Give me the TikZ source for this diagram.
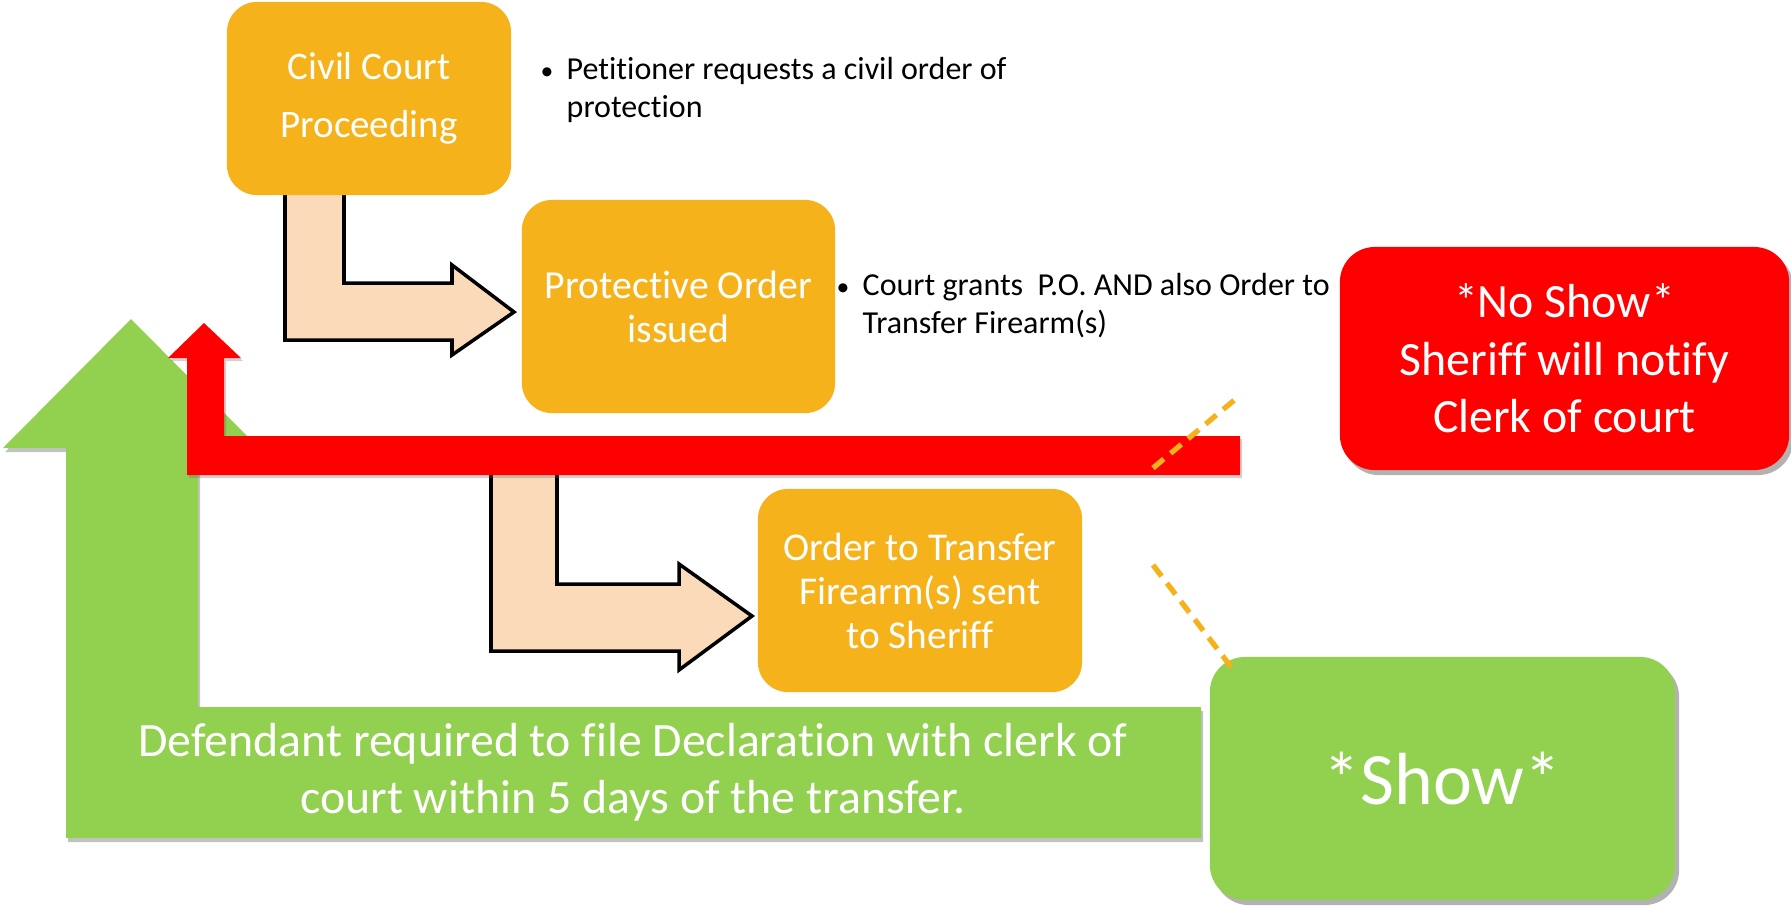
\documentclass[tikz,border=0pt]{standalone}
\usepackage{fontspec}
\setmainfont{Carlito}[RawFeature={-liga;-clig;-dlig;-calt}]
\usetikzlibrary{shadows}
\definecolor{boxorange}{RGB}{245,178,27}
\definecolor{arrowpeach}{RGB}{250,218,185}
\definecolor{showgreen}{RGB}{146,208,80}
\definecolor{alarmred}{RGB}{255,0,0}
\newcommand{\tbreak}{t\kern0pt}
\tikzset{obox/.style={fill=boxorange, rounded corners=0.3cm, text=white, align=center, inner sep=0pt},
  bentarrow/.style={fill=arrowpeach, draw=black, line width=1pt, line join=miter},
  greenarrow/.style={fill=showgreen, drop shadow={shadow xshift=0.02cm, shadow yshift=-0.04cm, opacity=0.4, fill=black!60}},
  redarrow/.style={fill=alarmred, drop shadow={shadow xshift=0.02cm, shadow yshift=-0.03cm, opacity=0.3, fill=black!60}},
  note/.style={align=left, inner sep=0pt, font=\fontsize{9.1pt}{10.8pt}\selectfont},
  bigbox/.style={rounded corners=0.35cm, text=white, align=center, inner sep=0pt, drop shadow={shadow xshift=0.04cm, shadow yshift=-0.05cm, opacity=0.5, fill=black!60}},
  leader/.style={draw=boxorange, line width=1.5pt, dash pattern=on 4pt off 2.5pt}}

\begin{document}
\begin{tikzpicture}[x=0.01cm,y=-0.01cm]
  \useasboundingbox (0,0) rectangle (1791,905);
  % green return arrow
  \fill[greenarrow] (1201,838) -- (66,838) -- (66,448) -- (3,448) -- (131,319) -- (259,448) -- (198,448) -- (198,707) -- (1201,707) -- cycle;
  % bent arrows between steps
  \draw[bentarrow] (344,190) -- (285,190) -- (285,340) -- (452,340) -- (452,355) -- (514,312) -- (452,265) -- (452,283) -- (344,283) -- cycle;
  \draw[bentarrow] (557,470) -- (491,470) -- (491,651) -- (679,651) -- (679,670) -- (752,616) -- (679,564) -- (679,584) -- (557,584) -- cycle;
  % red no-show arrow
  \fill[redarrow] (1240,475) -- (187,475) -- (187,358) -- (168,358) -- (204,323) -- (241,358) -- (224,358) -- (224,436) -- (1240,436) -- cycle;

  \node[obox, minimum width=2.84cm, minimum height=1.93cm, font=\fontsize{11.1pt}{16.5pt}\selectfont] (civil) at (369,98.5) {Civil Court\\Proceeding};
  \node[obox, minimum width=3.13cm, minimum height=2.13cm, font=\fontsize{11.3pt}{12.6pt}\selectfont] (protective) at (678.5,306.5) {Protec\tbreak ive Order\\issued};
  \node[obox, minimum width=3.24cm, minimum height=2.03cm, font=\fontsize{11.2pt}{12.5pt}\selectfont] (transfer) at (920,590.5) {Order to Transfer\\Firearm(s) sent\\to Sheriff};

  \node[note, anchor=west] (petnote) at (540,90) {\makebox[0.26cm][l]{\scalebox{0.8}{\textbullet}}Petitioner requests a civil order of\\\hspace*{0.26cm}protec\tbreak ion};
  \node[note, anchor=west] (grantnote) at (836,306) {\makebox[0.26cm][l]{\scalebox{0.8}{\textbullet}}Court grants~~P.O. AND also Order to\\\hspace*{0.26cm}Transfer Firearm(s)};

  \node[bigbox, fill=alarmred, minimum width=4.49cm, minimum height=2.23cm, font=\fontsize{13.6pt}{16.3pt}\selectfont] (noshow) at (1564.5,358.5) {*No Show*\\Sheriff will no\tbreak ify\\Clerk of court};
  \node[bigbox, fill=showgreen, minimum width=4.65cm, minimum height=2.43cm, font=\fontsize{21pt}{25pt}\selectfont] (show) at (1442.5,778.5) {*Show*};
  \node[align=center, text=white, inner sep=0pt, font=\fontsize{13.6pt}{16.3pt}\selectfont] (declare) at (633,772) {Defendant required to file Declara\tbreak ion with clerk of\\court within 5 days of the transfer.};

  % dashed leaders
  \coordinate (lead1a) at (1153,468);
  \coordinate (lead1b) at (1238,397);
  \coordinate (lead2a) at (1153,565);
  \coordinate (lead2b) at (1235,672);
  \draw[leader] (lead1a) -- (lead1b);
  \draw[leader] (lead2a) -- (lead2b);
\end{tikzpicture}
\end{document}
